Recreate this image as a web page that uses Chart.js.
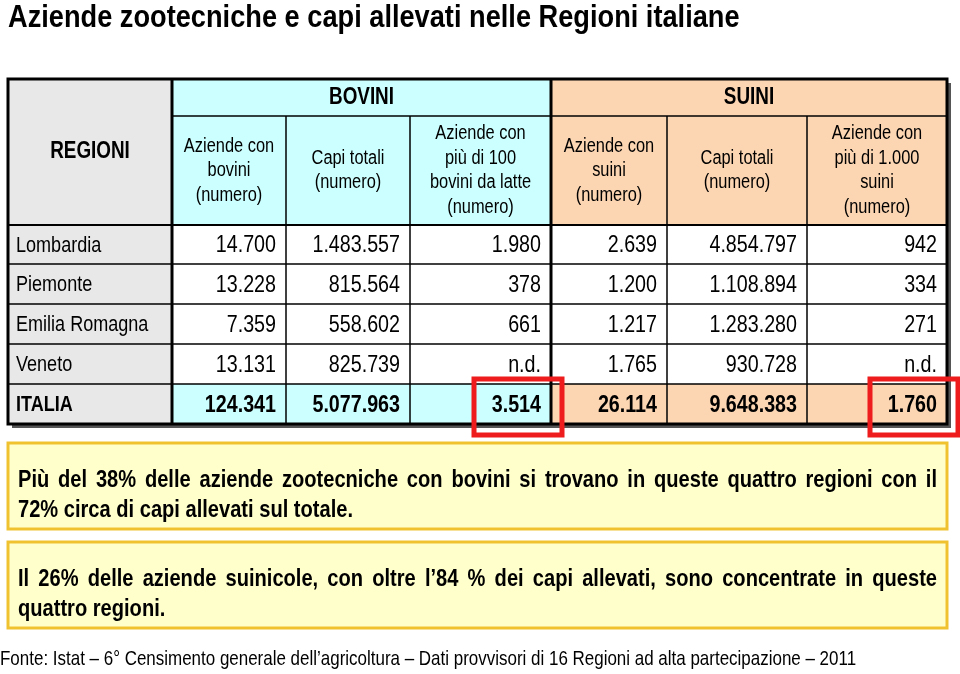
<!DOCTYPE html>
<html>
<head>
<meta charset="utf-8">
<script src="https://cdn.jsdelivr.net/npm/chart.js@4"></script>
<style>
  body { margin: 0; background: #fff; }
  canvas { display: block; }
</style>
</head>
<body>
<canvas id="tabella-chart" width="960" height="674"></canvas>
<script>
// Dati della tabella
var titolo = 'Aziende zootecniche e capi allevati nelle Regioni italiane';
var regioni = ['Lombardia', 'Piemonte', 'Emilia Romagna', 'Veneto', 'ITALIA'];
var gruppi = ['BOVINI', 'SUINI'];
var intestazioni = [
	['Aziende con', 'bovini', '(numero)'],
	['Capi totali', '(numero)'],
	['Aziende con', 'più di 100', 'bovini da latte', '(numero)'],
	['Aziende con', 'suini', '(numero)'],
	['Capi totali', '(numero)'],
	['Aziende con', 'più di 1.000', 'suini', '(numero)']
];
var aziendeBovini = [14700, 13228, 7359, 13131, 124341];
var capiBovini = [1483557, 815564, 558602, 825739, 5077963];
var aziendeLatte = [1980, 378, 661, null, 3514];
var aziendeSuini = [2639, 1200, 1217, 1765, 26114];
var capiSuini = [4854797, 1108894, 1283280, 930728, 9648383];
var aziendeSuini1000 = [942, 334, 271, null, 1760];
// celle evidenziate [riga, colonna]
var evidenziati = [[4, 2], [4, 5]];
var nota1 = ['Più del 38% delle aziende zootecniche con bovini si trovano in queste quattro regioni con il',
	'72% circa di capi allevati sul totale.'];
var nota2 = ['Il 26% delle aziende suinicole, con oltre l’84 % dei capi allevati, sono concentrate in queste',
	'quattro regioni.'];
var fonte = 'Fonte: Istat – 6° Censimento generale dell’agricoltura – Dati provvisori di 16 Regioni ad alta partecipazione – 2011';

// Layout (unità delle scale)
var LARGHEZZA = 960;
var ALTEZZA = 674;
var COLONNE = [8, 172, 286, 410, 551, 667, 807, 947];
var RIGHE = [79, 116, 225, 264, 304, 344, 384, 424];
var NOTE_BOX = [[443, 529], [542, 628]];
// Arial Narrow non c'e': Liberation Sans compresso in orizzontale
var FONT = '"Liberation Sans", Arial, sans-serif';
var STRETTO = 0.82;

var TabellaChart;

window.onload = function() {
	createChart();
};

/**
 * formatta numero con separatore migliaia
 */
function formatta(v) {
	if (v === null) return 'n.d.';
	return String(v).replace(/\B(?=(\d{3})+(?!\d))/g, '.');
}

/**
 * scrive testo stretto (allineamento come ctx.textAlign)
 */
function scrivi(ctx, testo, x, y, k) {
	ctx.save();
	ctx.translate(x, y);
	ctx.scale(k || STRETTO, 1);
	ctx.fillText(testo, 0, 0);
	ctx.restore();
}

function larghezza(ctx, testo) {
	return ctx.measureText(testo).width * STRETTO;
}

/**
 * testo giustificato sulla larghezza data
 */
function testoGiustificato(ctx, testo, x, y, w) {
	var parole = testo.split(' ');
	var tot = 0;
	parole.forEach(function(p) { tot += larghezza(ctx, p); });
	var gap = Math.max((w - tot) / (parole.length - 1), 3);
	var cx = x;
	parole.forEach(function(p) {
		scrivi(ctx, p, cx, y);
		cx += larghezza(ctx, p) + gap;
	});
}

var tabellaPlugin = {
	id: 'tabella',
	afterDraw: function(chart) {
		var ctx = chart.ctx;
		var sx = chart.scales.x, sy = chart.scales.y;
		var px = function(v) { return sx.getPixelForValue(v); };
		var py = function(v) { return sy.getPixelForValue(v); };
		var valori = [aziendeBovini, capiBovini, aziendeLatte, aziendeSuini, capiSuini, aziendeSuini1000];

		ctx.save();
		ctx.fillStyle = '#fff';
		ctx.fillRect(0, 0, chart.width, chart.height);

		// titolo
		ctx.fillStyle = '#000';
		ctx.font = 'bold 32px ' + FONT;
		ctx.textBaseline = 'alphabetic';
		ctx.textAlign = 'left';
		scrivi(ctx, titolo, px(8), py(27), 0.85);

		var x0 = px(COLONNE[0]), x7 = px(COLONNE[7]);
		var y0 = py(RIGHE[0]), y7 = py(RIGHE[7]);

		// ombra
		ctx.fillStyle = '#555';
		ctx.fillRect(x0 + 4, y0 + 4, x7 - x0, y7 - y0);

		// sfondi intestazione
		ctx.fillStyle = '#e8e8e8';
		ctx.fillRect(x0, y0, px(COLONNE[1]) - x0, y7 - y0);
		ctx.fillStyle = '#ccffff';
		ctx.fillRect(px(COLONNE[1]), y0, px(COLONNE[4]) - px(COLONNE[1]), py(RIGHE[2]) - y0);
		ctx.fillStyle = '#fcd5b2';
		ctx.fillRect(px(COLONNE[4]), y0, x7 - px(COLONNE[4]), py(RIGHE[2]) - y0);
		// corpo
		ctx.fillStyle = '#fff';
		ctx.fillRect(px(COLONNE[1]), py(RIGHE[2]), x7 - px(COLONNE[1]), py(RIGHE[6]) - py(RIGHE[2]));
		ctx.fillStyle = '#ccffff';
		ctx.fillRect(px(COLONNE[1]), py(RIGHE[6]), px(COLONNE[4]) - px(COLONNE[1]), y7 - py(RIGHE[6]));
		ctx.fillStyle = '#fcd5b2';
		ctx.fillRect(px(COLONNE[4]), py(RIGHE[6]), x7 - px(COLONNE[4]), y7 - py(RIGHE[6]));

		// griglia
		ctx.strokeStyle = '#000';
		function linea(xa, ya, xb, yb, w) {
			ctx.lineWidth = w;
			ctx.beginPath();
			ctx.moveTo(xa, ya);
			ctx.lineTo(xb, yb);
			ctx.stroke();
		}
		linea(px(COLONNE[1]), py(RIGHE[1]), x7, py(RIGHE[1]), 1.5);
		for (var r = 2; r < 7; r++) {
			linea(x0, py(RIGHE[r]), x7, py(RIGHE[r]), r == 2 ? 2 : 1.5);
		}
		for (var c = 1; c < 7; c++) {
			var top = (c == 1 || c == 4) ? y0 : py(RIGHE[1]);
			linea(px(COLONNE[c]), top, px(COLONNE[c]), y7, (c == 1 || c == 4) ? 3 : 1.5);
		}
		ctx.lineWidth = 3;
		ctx.strokeRect(x0, y0, x7 - x0, y7 - y0);

		// testo intestazione
		ctx.fillStyle = '#000';
		ctx.textAlign = 'center';
		ctx.textBaseline = 'middle';
		ctx.font = 'bold 23px ' + FONT;
		scrivi(ctx, 'REGIONI', (x0 + px(COLONNE[1])) / 2, (y0 + py(RIGHE[2])) / 2);
		scrivi(ctx, gruppi[0], (px(COLONNE[1]) + px(COLONNE[4])) / 2, (y0 + py(RIGHE[1])) / 2);
		scrivi(ctx, gruppi[1], (px(COLONNE[4]) + x7) / 2, (y0 + py(RIGHE[1])) / 2);
		ctx.font = '20px ' + FONT;
		intestazioni.forEach(function(righe, i) {
			var cx = (px(COLONNE[i + 1]) + px(COLONNE[i + 2])) / 2;
			var cy = (py(RIGHE[1]) + py(RIGHE[2])) / 2;
			var passo = 24.5;
			righe.forEach(function(t, k) {
				scrivi(ctx, t, cx, cy + (k - (righe.length - 1) / 2) * passo);
			});
		});

		// righe dati
		regioni.forEach(function(nome, i) {
			var cy = (py(RIGHE[i + 2]) + py(RIGHE[i + 3])) / 2 + 1;
			var totale = (i == regioni.length - 1);
			ctx.textAlign = 'left';
			ctx.font = (totale ? 'bold ' : '') + '22px ' + FONT;
			scrivi(ctx, nome, x0 + 8, cy);
			ctx.textAlign = 'right';
			ctx.font = (totale ? 'bold ' : '') + '24px ' + FONT;
			valori.forEach(function(serie, c) {
				scrivi(ctx, formatta(serie[i]), px(COLONNE[c + 2]) - 10, cy);
			});
		});

		// evidenziati
		ctx.strokeStyle = '#ee1c1c';
		ctx.lineWidth = 5;
		evidenziati.forEach(function(e) {
			var right = px(COLONNE[e[1] + 2]);
			var t = py(RIGHE[e[0] + 2]);
			var b = py(RIGHE[e[0] + 3]);
			ctx.strokeRect(right - 77, t - 5, 88, b - t + 16);
		});

		// note
		[nota1, nota2].forEach(function(nota, n) {
			var t = py(NOTE_BOX[n][0]), b = py(NOTE_BOX[n][1]);
			ctx.fillStyle = '#ffffcc';
			ctx.fillRect(x0, t, x7 - x0, b - t);
			ctx.strokeStyle = '#f0c230';
			ctx.lineWidth = 3;
			ctx.strokeRect(x0, t, x7 - x0, b - t);
			ctx.fillStyle = '#000';
			ctx.font = 'bold 24.5px ' + FONT;
			ctx.textAlign = 'left';
			ctx.textBaseline = 'middle';
			var cy1 = t + (b - t) * 0.43;
			var cy2 = t + (b - t) * 0.78;
			testoGiustificato(ctx, nota[0], x0 + 10, cy1, x7 - x0 - 20);
			scrivi(ctx, nota[1], x0 + 10, cy2);
		});

		// fonte
		ctx.font = '20.7px ' + FONT;
		ctx.textAlign = 'left';
		scrivi(ctx, fonte, px(0), py(659));
		ctx.restore();
	}
};

/**
 * crea il grafico (tabella disegnata sulle scale)
 */
function createChart() {
	var canvas = document.getElementById('tabella-chart');
	TabellaChart = new Chart(canvas, {
		type: 'scatter',
		data: { datasets: [{ data: [] }] },
		options: {
			responsive: false,
			animation: false,
			layout: { padding: 0 },
			scales: {
				x: { type: 'linear', min: 0, max: LARGHEZZA, display: false },
				y: { type: 'linear', min: 0, max: ALTEZZA, reverse: true, display: false }
			},
			plugins: {
				legend: { display: false },
				tooltip: { enabled: false }
			}
		},
		plugins: [tabellaPlugin]
	});
}
</script>
</body>
</html>
